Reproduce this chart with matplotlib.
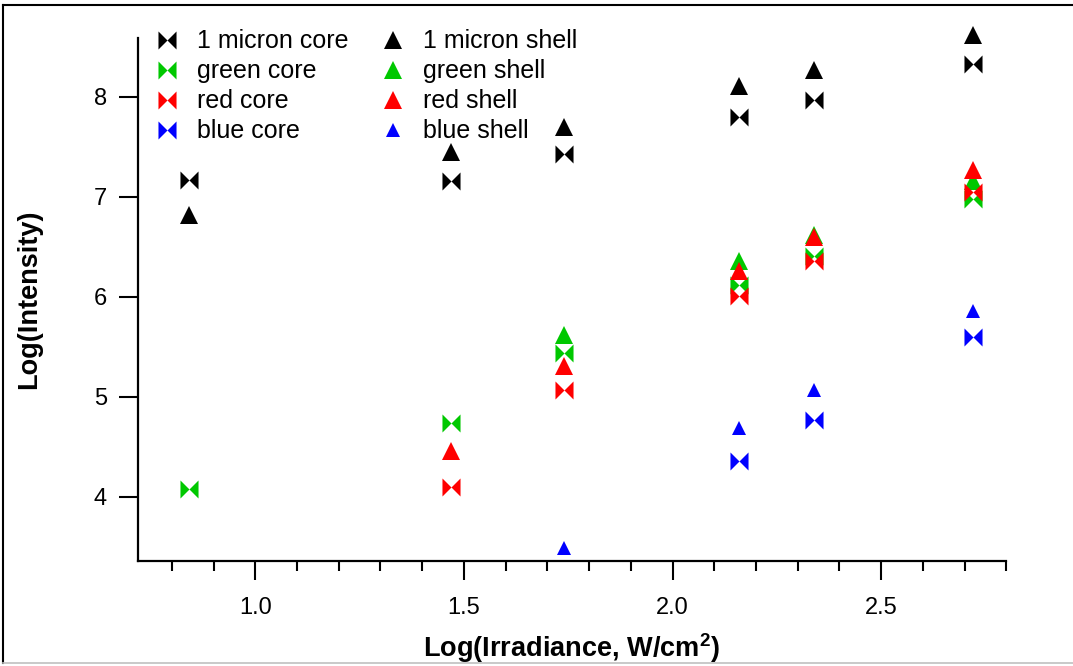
import matplotlib.pyplot as plt
from matplotlib.path import Path
from matplotlib.ticker import MultipleLocator
from matplotlib.lines import Line2D

plt.rcParams['font.family'] = ['Liberation Sans', 'DejaVu Sans']
plt.rcParams['mathtext.fontset'] = 'custom'
plt.rcParams['mathtext.rm'] = 'Liberation Sans'
plt.rcParams['mathtext.bf'] = 'Liberation Sans:bold'

# x positions: Log(Irradiance)
x_vals = [0.84, 1.47, 1.74, 2.16, 2.34, 2.72]

# Log(Intensity) per series (None = no point)
micron_core = [7.17, 7.16, 7.43, 7.80, 7.97, 8.33]
micron_shell = [6.82, 7.45, 7.70, 8.11, 8.27, 8.62]
green_core = [4.08, 4.74, 5.44, 6.12, 6.41, 6.98]
green_shell = [None, None, 5.62, 6.36, 6.62, 7.16]
red_core = [None, 4.10, 5.07, 6.01, 6.36, 7.05]
red_shell = [None, 4.46, 5.31, 6.26, 6.60, 7.27]
blue_core = [None, None, None, 4.36, 4.77, 5.60]
blue_shell = [None, None, 3.49, 4.69, 5.07, 5.86]

# bowtie marker for the "core" series
bowtie = Path([(-1, -1), (0, 0), (-1, 1), (-1, -1),
               (1, 1), (0, 0), (1, -1), (1, 1)],
              [Path.MOVETO, Path.LINETO, Path.LINETO, Path.CLOSEPOLY,
               Path.MOVETO, Path.LINETO, Path.LINETO, Path.CLOSEPOLY])

series = [
    ('1 micron core', micron_core, 'black', bowtie, 13),
    ('1 micron shell', micron_shell, 'black', '^', 13),
    ('green core', green_core, '#00c800', bowtie, 13),
    ('green shell', green_shell, '#00c800', '^', 13),
    ('red core', red_core, 'red', bowtie, 13),
    ('red shell', red_shell, 'red', '^', 13),
    ('blue core', blue_core, 'blue', bowtie, 13),
    ('blue shell', blue_shell, 'blue', '^', 10),
]

fig = plt.figure(figsize=(10.73, 6.66), dpi=100)
ax = fig.add_axes([0.1283, 0.158, 0.8095, 0.785])

handles = {}
for name, vals, col, mk, ms in series:
    xs = [x for x, v in zip(x_vals, vals) if v is not None]
    ys = [v for v in vals if v is not None]
    ax.plot(xs, ys, linestyle='none', marker=mk, color=col, markersize=ms,
            markeredgewidth=0, clip_on=False)
    handles[name] = Line2D([], [], linestyle='none', marker=mk, color=col,
                           markersize=ms, markeredgewidth=0)

ax.set_xlim(0.718, 2.8)
ax.set_ylim(3.36, 8.59)
ax.xaxis.set_major_locator(MultipleLocator(0.5))
ax.xaxis.set_minor_locator(MultipleLocator(0.1))
ax.yaxis.set_major_locator(MultipleLocator(1))

for s in ['top', 'right']:
    ax.spines[s].set_visible(False)
for s in ['left', 'bottom']:
    ax.spines[s].set_linewidth(1.6)

ax.tick_params(axis='both', which='major', direction='out', length=14,
               width=1.5, labelsize=17)
ax.tick_params(axis='x', which='minor', direction='out', length=7, width=1.5)
ax.tick_params(axis='x', pad=12)
ax.tick_params(axis='y', pad=8)

ax.set_xlabel(r'Log(Irradiance, W/cm$^{\mathbf{2}}$)', fontsize=19.5,
              fontweight='bold', labelpad=9)
ax.set_ylabel('Log(Intensity)', fontsize=19.5, fontweight='bold', labelpad=37)

order = ['1 micron core', 'green core', 'red core', 'blue core',
         '1 micron shell', 'green shell', 'red shell', 'blue shell']
ax.legend([handles[n] for n in order], order, ncol=2, frameon=False,
          loc='upper left', bbox_to_anchor=(-0.004, 1.05), fontsize=18,
          labelspacing=0.24, handletextpad=0.6, columnspacing=1.2,
          handlelength=1.2, borderaxespad=0.3)

# figure frame
fig.add_artist(Line2D([0.003, 0.003], [0.005, 0.993], transform=fig.transFigure,
                      color='black', linewidth=1.5))
fig.add_artist(Line2D([0.003, 1.0], [0.993, 0.993], transform=fig.transFigure,
                      color='black', linewidth=1.5))
fig.add_artist(Line2D([0.003, 1.0], [0.005, 0.005], transform=fig.transFigure,
                      color='#c0c0c0', linewidth=1.2))

fig.savefig('out.png', dpi=100)
